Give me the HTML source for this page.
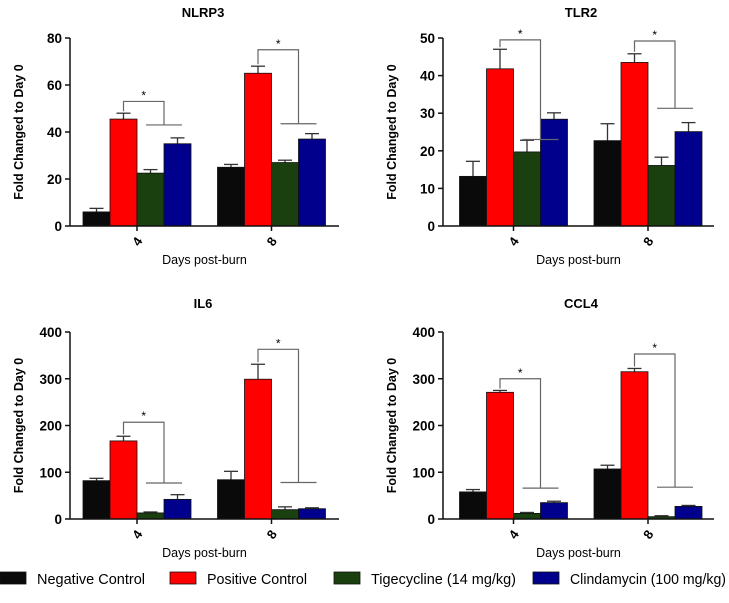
<!DOCTYPE html>
<html><head><meta charset="utf-8"><style>
html,body{margin:0;padding:0;background:#fff;}
svg{display:block;font-family:"Liberation Sans",Arial,sans-serif;}
</style></head><body>
<svg id="chart" width="729" height="603" viewBox="0 0 729 603"></svg>
<script>
const groups = ["4", "8"];
const seriesNames = ["Negative Control", "Positive Control", "Tigecycline (14 mg/kg)", "Clindamycin (100 mg/kg)"];
const seriesColors = ["#0a0a0a", "#ff0000", "#1a4010", "#00008c"];

const nlrp3Values = [[6, 25], [45.5, 65], [22.5, 27], [35, 37]];
const nlrp3Errors = [[1.5, 1.2], [2.5, 3], [1.5, 1], [2.5, 2.3]];
const nlrp3Ticks = [0, 20, 40, 60, 80];
const nlrp3Brackets = [[53, 43], [75, 43.5]];

const tlr2Values = [[13.2, 22.7], [41.8, 43.5], [19.7, 16.1], [28.4, 25.1]];
const tlr2Errors = [[4, 4.5], [5.2, 2.3], [3.1, 2.2], [1.7, 2.4]];
const tlr2Ticks = [0, 10, 20, 30, 40, 50];
const tlr2Brackets = [[49.5, 23], [49.2, 31.3]];

const il6Values = [[82, 84], [167, 299], [13, 20], [42, 22]];
const il6Errors = [[5, 18], [10, 32], [2, 6], [10, 2]];
const il6Ticks = [0, 100, 200, 300, 400];
const il6Brackets = [[207, 77], [363, 78]];

const ccl4Values = [[58, 107], [271, 315], [12, 5], [35, 27]];
const ccl4Errors = [[5, 8], [4, 7], [2, 2], [3, 2]];
const ccl4Ticks = [0, 100, 200, 300, 400];
const ccl4Brackets = [[300, 66], [353, 68]];

const NS = "http://www.w3.org/2000/svg";
const svg = document.getElementById("chart");
function mk(tag, attrs, parent, text) {
  const e = document.createElementNS(NS, tag);
  for (const k in attrs) e.setAttribute(k, attrs[k]);
  if (text !== undefined) e.textContent = text;
  (parent || svg).appendChild(e);
  return e;
}

function panel(cfg) {
  const g = mk("g", {});
  
  
  const maxV = cfg.ticks[cfg.ticks.length - 1];
  const y = v => cfg.y0 - (v / maxV) * (cfg.y0 - cfg.yTop);
  const bw = 27;
  const barX = (gi, si) => cfg.centers[gi] - 2 * bw + si * bw;

  const t = mk("text", {x: cfg.titleX, y: cfg.titleY, "text-anchor": "middle", "font-size": 13, "font-weight": "bold"}, g, cfg.title);
  
  

  const yl = mk("text", {x: 0, y: 0, transform: `translate(${cfg.axisX - 47},${(cfg.y0 + cfg.yTop) / 2}) rotate(-90)`, "text-anchor": "middle", "font-size": 12.5, "font-weight": "bold"}, g, "Fold Changed to Day 0");
  
  

  const xl = mk("text", {x: (cfg.axisX + cfg.axisEnd) / 2, y: cfg.y0 + 38, "text-anchor": "middle", "font-size": 12.5}, g, "Days post-burn");
  
  

  seriesNames.forEach((s, si) => {
    groups.forEach((gr, gi) => {
      const v = cfg.values[si][gi], e = cfg.errors[si][gi];
      const x = barX(gi, si);
      const cx = x + bw / 2;
      const eb = mk("line", {x1: cx, x2: cx, y1: y(v), y2: y(v + e), stroke: "#333", "stroke-width": 1.3}, g);
      
      
      mk("line", {x1: cx - 7, x2: cx + 7, y1: y(v + e), y2: y(v + e), stroke: "#333", "stroke-width": 1.3}, g);
      const r = mk("rect", {x: x, y: y(v), width: bw, height: cfg.y0 - y(v), fill: seriesColors[si], stroke: "#111", "stroke-width": 0.8}, g);
      
      
    });
  });

  cfg.brackets.forEach((b, gi) => {
    const x1 = barX(gi, 1) + bw / 2, x2 = barX(gi, 3);
    const yt = y(b[0]), yb = y(b[1]);
    const p = mk("path", {d: `M${x1},${y(cfg.values[1][gi] + cfg.errors[1][gi]) - 2} L${x1},${yt} L${x2},${yt} L${x2},${yb}`, fill: "none", stroke: "#666", "stroke-width": 1.2}, g);
    
    
    mk("line", {x1: x2 - 18, x2: x2 + 18, y1: yb, y2: yb, stroke: "#666", "stroke-width": 1.2}, g);
    const st = mk("text", {x: (x1 + x2) / 2, y: yt - 2, "text-anchor": "middle", "font-size": 12}, g, "*");
    
    
  });

  mk("line", {x1: cfg.axisX, x2: cfg.axisX, y1: cfg.yTop, y2: cfg.y0, stroke: "#111", "stroke-width": 1.5}, g);
  mk("line", {x1: cfg.axisX, x2: cfg.axisEnd, y1: cfg.y0, y2: cfg.y0, stroke: "#111", "stroke-width": 1.5}, g);
  cfg.ticks.forEach(tv => {
    mk("line", {x1: cfg.axisX - 5, x2: cfg.axisX, y1: y(tv), y2: y(tv), stroke: "#111", "stroke-width": 1.5}, g);
    const tl = mk("text", {x: cfg.axisX - 8, y: y(tv) + 5, "text-anchor": "end", "font-size": 13.5, "font-weight": "bold"}, g, String(tv));
    
    
  });
  groups.forEach((gr, gi) => {
    const cx = cfg.centers[gi];
    mk("line", {x1: cx, x2: cx, y1: cfg.y0, y2: cfg.y0 + 5, stroke: "#111", "stroke-width": 1.5}, g);
    const tl = mk("text", {x: 0, y: 0, transform: `translate(${cx + 4},${cfg.y0 + 18}) rotate(-55)`, "text-anchor": "middle", "font-size": 13, "font-weight": "bold"}, g, gr);
    
    
  });
}

panel({name: "nlrp3", title: "NLRP3", values: nlrp3Values, errors: nlrp3Errors, ticks: nlrp3Ticks, brackets: nlrp3Brackets,
  axisX: 70, axisEnd: 339, yTop: 38, y0: 226, centers: [137, 271.5], titleX: 203, titleY: 17});
panel({name: "tlr2", title: "TLR2", values: tlr2Values, errors: tlr2Errors, ticks: tlr2Ticks, brackets: tlr2Brackets,
  axisX: 443, axisEnd: 714, yTop: 38, y0: 226, centers: [513.5, 648], titleX: 581, titleY: 17});
panel({name: "il6", title: "IL6", values: il6Values, errors: il6Errors, ticks: il6Ticks, brackets: il6Brackets,
  axisX: 70, axisEnd: 339, yTop: 332, y0: 519, centers: [137, 271.5], titleX: 203, titleY: 308});
panel({name: "ccl4", title: "CCL4", values: ccl4Values, errors: ccl4Errors, ticks: ccl4Ticks, brackets: ccl4Brackets,
  axisX: 443, axisEnd: 714, yTop: 332, y0: 519, centers: [513.5, 648], titleX: 581, titleY: 308});

const legendX = [0, 170, 334, 533];
const legendW = [108, 100, 145, 156];
const leg = mk("g", {});


seriesNames.forEach((s, i) => {
  const sw = mk("rect", {x: legendX[i], y: 572, width: 26, height: 12, fill: seriesColors[i], stroke: "#111", "stroke-width": 0.8}, leg);
  
  
  const tx = mk("text", {x: legendX[i] + 37, y: 584, "font-size": 14.3, textLength: legendW[i], lengthAdjust: "spacingAndGlyphs"}, leg, s);
  
  
});
</script>
</body></html>
